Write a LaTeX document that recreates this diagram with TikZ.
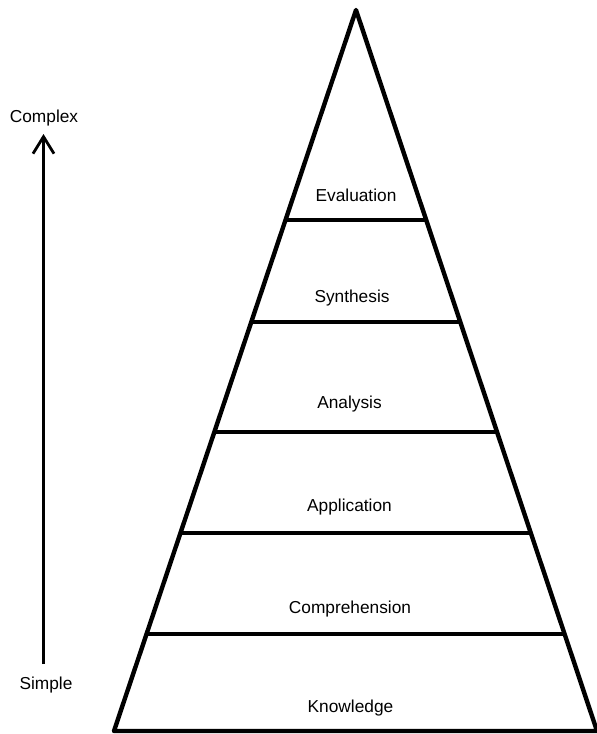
\documentclass[tikz,border=0pt]{standalone}
\usepackage{fontspec}
\setmainfont{Liberation Sans}
\usetikzlibrary{arrows.meta}
\tikzset{
  level/.style={anchor=base,inner sep=0pt,font=\fontsize{17.3}{20}\selectfont},
  tier/.style={line width=4.4pt},
}
\begin{document}
\begin{tikzpicture}[x=1pt,y=-1pt]
                \useasboundingbox (0,0) rectangle (597,734);
                \draw[tier,line join=round] (356,10) -- (597,731) -- (114,731) -- cycle;
                \draw[tier] (285.5,220) -- (426.2,220);
                \draw[tier] (251.3,322) -- (460.3,322);
                \draw[tier] (214.4,432) -- (497.1,432);
                \draw[tier] (180.5,533) -- (530.8,533);
                \draw[tier] (146.6,634) -- (564.6,634);
                \node[level] (evaluation) at (356,201) {Evaluation};
                \node[level] (synthesis) at (352,302) {Synthesis};
                \node[level] (analysis) at (349.5,408.5) {Analysis};
                \node[level] (application) at (349.5,511) {Application};
                \node[level] (comprehension) at (350,613) {Comprehension};
                \node[level] (knowledge) at (350.5,712) {Knowledge};
                \node[level] (complex) at (44,122) {Complex};
                \node[level] (simple) at (46,689.5) {Simple};
                \coordinate (low) at (43.5,664);
                \coordinate (high) at (43.5,134);
                \draw[line width=2.8pt,-{Straight Barb[length=17pt,width=21pt,line width=2.8pt]}] (low) -- (high);
            \end{tikzpicture}
\end{document}
